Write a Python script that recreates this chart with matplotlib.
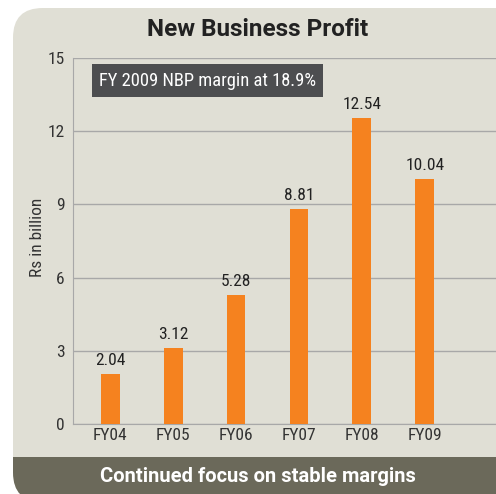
import matplotlib
matplotlib.use("Agg")
from matplotlib import pyplot as plt
from matplotlib.patches import FancyBboxPatch, Rectangle

years = ["FY04", "FY05", "FY06", "FY07", "FY08", "FY09"]
profit = [2.04, 3.12, 5.28, 8.81, 12.54, 10.04]
yticks = [0, 3, 6, 9, 12, 15]

plt.rcParams['font.family'] = ['Roboto Condensed', 'Liberation Sans Narrow',
                               'Liberation Sans', 'DejaVu Sans']

fig = plt.figure(figsize=(4.96, 4.94), dpi=100)
W, H = 496, 494

# panel background with rounded corners on the left
bg = FancyBboxPatch((13 / W, -8 / H), 540 / W, 494 / H,
                    boxstyle="round,pad=0,rounding_size=0.06",
                    transform=fig.transFigure, facecolor="#e0dfd5",
                    edgecolor="none", zorder=0)
fig.patches.append(bg)
foot = Rectangle((0, 0), 1, 37 / H, transform=fig.transFigure,
                 facecolor="#6b695a", edgecolor="none", zorder=0.5)
fig.patches.append(foot)
foot.set_clip_path(bg)

ax = fig.add_axes([73 / W, (H - 424) / H, (W - 73) / W, 366 / H])
ax.set_zorder(2)
ax.set_facecolor("none")
x = list(range(len(years)))
ax.bar(x, profit, width=0.3, color="#f5821f", zorder=3)
for xi, v in zip(x, profit):
    ax.text(xi, v + 0.25, f"{v:.2f}", ha="center", va="bottom",
            fontsize=12.5, color="#222222")

ax.set_xlim(-0.59, 6.13)
ax.set_ylim(0, 15)
ax.set_yticks(yticks)
ax.set_xticks(x)
ax.set_xticklabels(years)
ax.yaxis.grid(True, color="#a8a8a8", linewidth=1)
ax.set_axisbelow(True)
for s in ["top", "right"]:
    ax.spines[s].set_visible(False)
for s in ["left", "bottom"]:
    ax.spines[s].set_color("#a8a8a8")
ax.tick_params(length=0, labelsize=12.5, colors="#333333")
ax.tick_params(axis="y", pad=6)
ax.tick_params(axis="x", pad=3)
ax.set_ylabel("Rs in billion", fontsize=12.5, color="#333333")
ax.yaxis.set_label_coords(-0.066, 0.51)

ax.text(0.061, 0.9385, "FY 2009 NBP margin at 18.9%", transform=ax.transAxes,
        ha="left", va="center", fontsize=13.3, color="white",
        bbox=dict(boxstyle="square,pad=0.38", facecolor="#4d4e50",
                  edgecolor="none"))

fig.text(258 / W, 1 - 30 / H, "New Business Profit", ha="center",
         va="center", fontsize=17.5, fontweight="bold", color="#222222",
         family=["Roboto", "DejaVu Sans"])
fig.text(258 / W, 1 - 476 / H, "Continued focus on stable margins",
         ha="center", va="center", fontsize=14.5, fontweight="bold",
         color="white", family=["Roboto", "DejaVu Sans"])

fig.savefig("out.png", dpi=100)
